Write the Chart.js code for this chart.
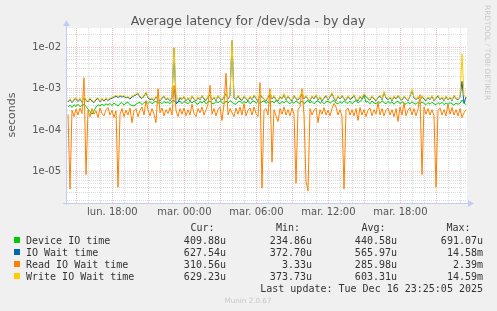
<!DOCTYPE html>
<html><head><meta charset="utf-8">
<script src="https://cdn.jsdelivr.net/npm/chart.js@4"></script>
<style>html,body{margin:0;padding:0;background:#f0f0f0;overflow:hidden}canvas{display:block}</style>
</head><body>
<canvas id="c" width="497" height="311"></canvas>
<script>
// ---- text ----
const chartTitle = 'Average latency for /dev/sda - by day';
const yAxisTitle = 'seconds';
const sideText = 'RRDTOOL / TOBI OETIKER';
const lastUpdate = 'Last update: Tue Dec 16 23:25:05 2025';
const muninVersion = 'Munin 2.0.67';

// ---- series (values in microseconds, one sample every 10 minutes) ----
const seriesNames = ['Device IO time', 'IO Wait time', 'Read IO Wait time', 'Write IO Wait time'];
const seriesColors = ['#00cc00', '#0066b3', '#ff8000', '#ffcc00'];

const deviceIO = [
360,400,350,410,370,420,365,400,420,370,
320,280,240,290,360,410,380,420,390,430,
400,440,390,450,410,380,440,460,400,450,
470,410,390,380,420,450,470,410,460,480,
440,490,430,470,500,440,480,430,490,450,
480,430,500,520,440,470,500,430,490,460,
430,490,450,500,440,420,490,450,510,430,
480,500,440,430,490,450,510,460,430,500,
450,510,470,430,420,480,500,440,490,450,
500,430,480,510,440,490,430,480,510,440,
490,430,500,450,520,460,430,490,450,510,
470,430,490,440,510,460,440,500,430,480,
520,450,490,430,480,510,440,490,430,480,
500,440,490,520,450,430,490,440,510,460,
440,500,430,480,520,450,490,540,690,470,
490,430,500,450,430,490,440,510,460,430,
490,440,480,420,470,500,430,480,450,420,
470,430,480,440,420,470,430,480,440,410,
460,420,470,430,410,460,420,470,410,450,
420,460,430,400,450,420,440,530,460,410
];
const ioWait = [
480,550,460,530,580,490,560,470,630,520,
480,570,500,460,540,580,480,560,500,570,
520,560,590,620,660,610,670,630,650,600,
620,560,630,670,710,760,620,580,660,800,
600,540,570,520,630,550,510,590,650,540,
580,510,610,9700,430,470,600,550,630,510,
590,500,650,550,500,610,540,670,560,520,
630,720,540,610,510,660,570,530,640,760,
560,670,14580,610,540,670,560,520,650,570,
510,630,540,680,570,520,740,620,550,500,
620,780,560,660,540,500,640,570,720,540,
650,550,510,670,570,530,630,800,570,660,
550,500,650,570,690,540,620,500,590,670,
540,630,760,580,510,650,560,670,570,520,
650,550,590,690,540,510,640,570,720,650,
570,530,650,560,510,610,670,540,820,590,
540,610,510,650,560,670,570,530,640,580,
510,650,910,610,540,620,520,650,560,510,
610,540,660,510,590,670,540,610,510,640,
540,610,510,670,570,540,630,1500,440,628
];
const readIOWait = [
240,3.7,300,210,320,230,340,250,1850,8.3,
300,210,330,240,290,200,340,250,220,310,
350,230,300,200,290,4.1,240,330,210,300,
230,340,150,290,330,210,300,360,230,520,
310,220,330,240,150,1000,260,340,220,310,
250,350,230,1200,300,210,330,240,340,220,
310,230,420,250,210,330,260,360,230,310,
420,1200,240,330,220,310,360,170,420,2350,
230,330,260,210,340,240,360,230,440,220,
300,340,230,360,250,210,1400,3.9,300,330,
230,1000,16.6,310,220,160,330,240,360,230,
310,220,340,240,5.1,310,370,1000,230,5.7,
3.33,330,230,300,340,150,310,240,350,230,
300,220,330,440,360,230,310,210,3.7,300,
340,230,310,220,330,170,350,230,310,210,
300,340,220,310,240,460,230,330,220,300,
340,230,310,210,330,160,360,230,450,220,
300,350,230,330,220,310,720,8.3,360,240,
330,230,310,220,4.1,300,340,230,310,220,
420,240,350,230,310,220,330,200,260,310
];
const writeIOWait = [
500,580,480,560,610,510,590,490,660,540,
500,600,520,480,570,610,500,590,520,600,
540,590,620,650,690,640,700,660,680,620,
650,590,660,700,740,800,650,610,690,840,
630,560,600,540,660,570,530,620,680,560,
610,530,640,9800,720,540,630,570,660,530,
620,520,680,570,520,640,560,700,590,540,
660,760,560,640,530,690,600,550,670,800,
580,700,14590,640,560,700,590,540,680,600,
530,660,560,710,600,540,780,650,570,520,
650,820,580,690,560,520,670,590,760,560,
680,570,530,700,600,550,660,840,590,690,
570,520,680,600,720,560,650,520,620,700,
560,660,800,610,530,680,580,700,600,540,
680,570,620,720,560,530,670,590,760,680,
600,550,680,580,530,640,700,560,860,620,
560,640,530,680,580,700,600,550,670,610,
530,680,960,640,560,650,540,680,580,530,
640,560,690,530,620,700,560,640,530,670,
560,640,530,700,600,560,660,6900,680,629
];

// ---- legend table ----
const legendHeaders = ['Cur:', 'Min:', 'Avg:', 'Max:'];
const legendCur = ['409.88u', '627.54u', '310.56u', '629.23u'];
const legendMin = ['234.86u', '372.70u', '3.33u', '373.73u'];
const legendAvg = ['440.58u', '565.97u', '285.98u', '603.31u'];
const legendMax = ['691.07u', '14.58m', '2.39m', '14.59m'];

// ---- axes ----
const startHour = 14 + 13 / 60;     // Monday 14:13 (hours since Monday 00:00)
const spanHours = 400 / 12;
const stepHours = 1 / 6;
const xTickLabels = {18: 'lun. 18:00', 24: 'mar. 00:00', 30: 'mar. 06:00', 36: 'mar. 12:00', 42: 'mar. 18:00'};
const yMin = 1.7e-6, yMax = 2.95e-2;

const allSeries = [deviceIO, ioWait, readIOWait, writeIOWait];

const GRID_MINOR = 'rgba(150,150,150,0.33)';
const GRID_MAJOR = 'rgba(225,90,90,0.4)';
const AXIS_COL = '#c4ccf4';

const bgPlugin = {
  id: 'bg',
  beforeDraw(chart) {
    const {ctx, chartArea: a} = chart;
    ctx.save();
    ctx.fillStyle = '#f0f0f0';
    ctx.fillRect(0, 0, chart.width, chart.height);
    ctx.fillStyle = '#ffffff';
    ctx.fillRect(a.left, a.top, a.right - a.left, a.bottom - a.top);
    ctx.restore();
  }
};

const decoPlugin = {
  id: 'deco',
  afterDraw(chart) {
    const {ctx, chartArea: a} = chart;
    ctx.save();
    // axes
    ctx.strokeStyle = AXIS_COL; ctx.lineWidth = 1;
    ctx.beginPath();
    ctx.moveTo(a.left - 0.5, a.bottom + 2); ctx.lineTo(a.left - 0.5, a.top - 4);
    ctx.moveTo(a.left - 4, a.bottom + 0.5); ctx.lineTo(a.right + 3, a.bottom + 0.5);
    ctx.stroke();
    ctx.fillStyle = AXIS_COL;
    ctx.beginPath();
    ctx.moveTo(a.left - 0.5, a.top - 8); ctx.lineTo(a.left - 4, a.top - 2); ctx.lineTo(a.left + 3, a.top - 2); ctx.closePath(); ctx.fill();
    ctx.beginPath();
    ctx.moveTo(a.right + 7, a.bottom + 0.5); ctx.lineTo(a.right + 1, a.bottom - 3); ctx.lineTo(a.right + 1, a.bottom + 4); ctx.closePath(); ctx.fill();

    // title
    ctx.fillStyle = '#555';
    ctx.font = '12.5px "DejaVu Sans"';
    ctx.textAlign = 'center'; ctx.textBaseline = 'alphabetic';
    ctx.fillText(chartTitle, 248, 24.5);

    // y axis title
    ctx.save();
    ctx.translate(15, 115);
    ctx.rotate(-Math.PI / 2);
    ctx.font = '11px "DejaVu Sans"';
    ctx.fillStyle = '#555';
    ctx.textAlign = 'center';
    ctx.fillText(yAxisTitle, 0, 0);
    ctx.restore();

    // side text
    ctx.save();
    ctx.translate(485, 5);
    ctx.rotate(Math.PI / 2);
    ctx.font = '7.4px "DejaVu Sans"';
    ctx.fillStyle = '#c8c8c8';
    ctx.textAlign = 'left';
    ctx.fillText(sideText, 0, 0);
    ctx.restore();

    // legend
    ctx.font = '10px "DejaVu Sans Mono"';
    ctx.fillStyle = '#333';
    ctx.textAlign = 'left';
    const headX = [190.5, 276, 361.5, 446.5];
    legendHeaders.forEach((h, k) => ctx.fillText(h, headX[k], 231));
    const rowY = [243.5, 255.5, 267.5, 279.5];
    const colR = [226, 312, 397, 483];
    seriesNames.forEach((n, r) => {
      ctx.fillStyle = seriesColors[r];
      ctx.fillRect(14, rowY[r] - 6.5, 6, 6);
      ctx.fillStyle = '#333';
      ctx.textAlign = 'left';
      ctx.fillText(n, 26, rowY[r]);
      ctx.textAlign = 'right';
      [legendCur, legendMin, legendAvg, legendMax].forEach((col, c) => ctx.fillText(col[r], colR[c], rowY[r]));
    });
    ctx.textAlign = 'right';
    ctx.fillText(lastUpdate, 483, 291.5);

    ctx.font = '7.2px "DejaVu Sans"';
    ctx.fillStyle = '#c8c8c8';
    ctx.textAlign = 'center';
    ctx.fillText(muninVersion, 248, 302.5);
    ctx.restore();
  }
};

function isDecade(v) {
  const l = Math.log10(v);
  return Math.abs(l - Math.round(l)) < 1e-6;
}

const datasets = allSeries.map((vals, k) => ({
  label: seriesNames[k],
  data: vals.map((v, i) => ({x: startHour + (i + 0.5) * stepHours, y: v * 1e-6})),
  borderColor: seriesColors[k],
  backgroundColor: seriesColors[k],
  borderWidth: 1,
  pointRadius: 0,
  tension: 0,
  fill: false,
  order: 3 - k
}));

new Chart(document.getElementById('c'), {
  type: 'line',
  data: {datasets},
  options: {
    responsive: false,
    animation: false,
    devicePixelRatio: 1,
    layout: {padding: {left: 0, top: 28, right: 30, bottom: 88}},
    plugins: {legend: {display: false}, title: {display: false}, tooltip: {enabled: false}},
    scales: {
      x: {
        type: 'linear',
        min: startHour,
        max: startHour + spanHours,
        afterFit(s) { s.height = 20; },
        afterBuildTicks(s) {
          const t = [];
          for (let h = Math.ceil(startHour); h <= startHour + spanHours; h++) t.push({value: h});
          s.ticks = t;
        },
        ticks: {
          autoSkip: false, maxRotation: 0, minRotation: 0, padding: 3,
          color: '#555', font: {family: 'DejaVu Sans', size: 10},
          callback: (v) => xTickLabels[v] !== undefined ? xTickLabels[v] : ''
        },
        grid: {
          drawTicks: false,
          lineWidth: 1,
          color: (c) => (c.tick && Math.round(c.tick.value) % 3 === 0) ? GRID_MAJOR : GRID_MINOR
        },
        border: {display: false, dash: [1, 1]}
      },
      y: {
        type: 'logarithmic',
        min: yMin,
        max: yMax,
        afterFit(s) { s.width = 67; },
        afterBuildTicks(s) {
          const t = [];
          for (let e = -6; e <= -2; e++) {
            for (let m = 1; m <= 9; m++) {
              const v = m * Math.pow(10, e);
              if (v >= yMin && v <= yMax) t.push({value: v});
            }
          }
          s.ticks = t;
        },
        ticks: {
          autoSkip: false, padding: 6,
          color: '#555', font: {family: 'DejaVu Sans', size: 10},
          callback: (v) => {
            if (!isDecade(v)) return '';
            const e = Math.round(Math.log10(v));
            return '1e-' + String(-e).padStart(2, '0');
          }
        },
        grid: {
          drawTicks: false,
          lineWidth: 1,
          color: (c) => (c.tick && isDecade(c.tick.value)) ? GRID_MAJOR : GRID_MINOR
        },
        border: {display: false, dash: [1, 1]}
      }
    }
  },
  plugins: [bgPlugin, decoPlugin]
});
</script>
</body></html>
